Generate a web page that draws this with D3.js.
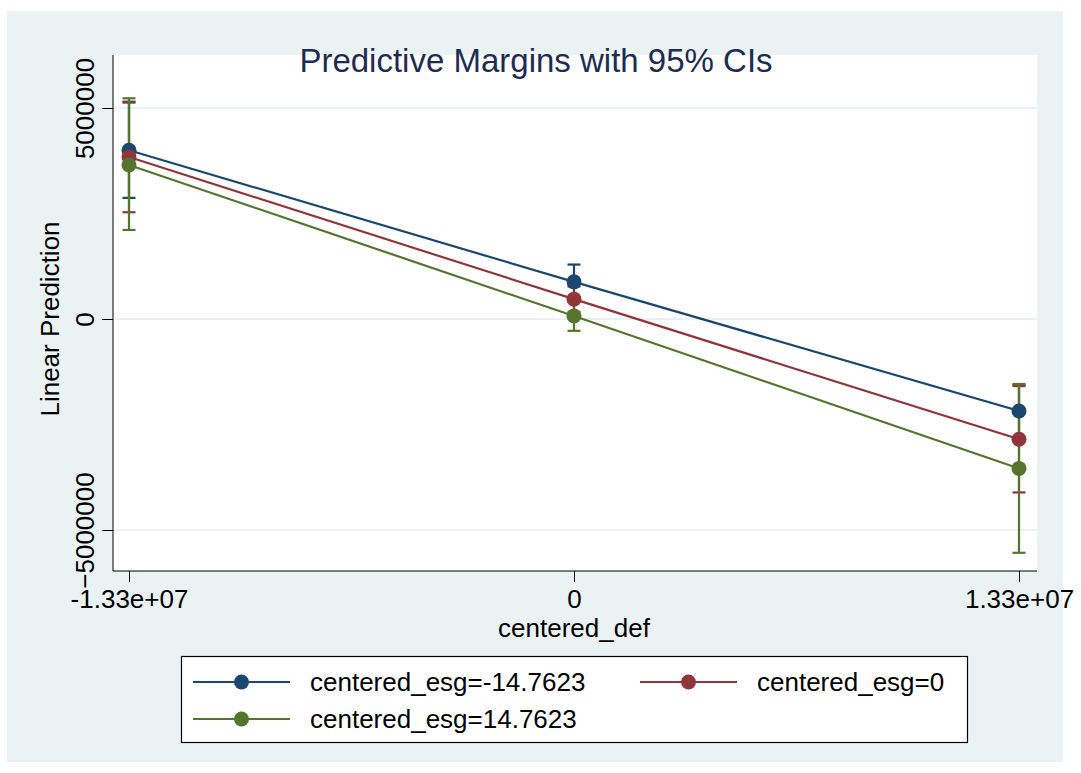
<!DOCTYPE html>
<html lang="en">
<head>
    <meta charset="UTF-8">
    <title>Predictive Margins</title>
    <script src="https://cdn.jsdelivr.net/npm/d3@7"></script>
    <style>
        body { margin: 0; background: #fff; }
        svg { font-family: "Liberation Sans", Arial, sans-serif; }
        .grid { stroke: #eaf2f3; stroke-width: 2px; }
    </style>
</head>
<body>
<svg width="1081" height="773"></svg>

<script>
    // values
    var xValues = [-1.33e7, 0, 1.33e7];
    var xTickLabels = ['-1.33e+07', '0', '1.33e+07'];
    var yTicks = [-5000000, 0, 5000000];

    var seriesNames = ['centered_esg=-14.7623', 'centered_esg=0', 'centered_esg=14.7623'];
    var colors = ['#1a476f', '#90353b', '#55752f'];

    var blueMargin = [4.0e6, 0.88e6, -2.18e6];
    var blueLow = [2.87e6, 0.47e6, -2.80e6];
    var blueHigh = [5.13e6, 1.29e6, -1.56e6];

    var redMargin = [3.84e6, 0.47e6, -2.85e6];
    var redLow = [2.53e6, 0.17e6, -4.11e6];
    var redHigh = [5.15e6, 0.77e6, -1.59e6];

    var greenMargin = [3.65e6, 0.07e6, -3.54e6];
    var greenLow = [2.11e6, -0.28e6, -5.54e6];
    var greenHigh = [5.23e6, 0.42e6, -1.54e6];

    var series = [
        {name: seriesNames[0], color: colors[0], m: blueMargin, lo: blueLow, hi: blueHigh},
        {name: seriesNames[1], color: colors[1], m: redMargin, lo: redLow, hi: redHigh},
        {name: seriesNames[2], color: colors[2], m: greenMargin, lo: greenLow, hi: greenHigh}
    ];

    var svg = d3.select('svg');

    // outer graph region
    svg.append('rect')
        .attr('x', 7).attr('y', 11)
        .attr('width', 1056).attr('height', 751)
        .attr('fill', '#eaf2f3');

    // plot region (note: "top" is reserved on window, so pl* names)
    var plLeft = 113, plRight = 1037, plTop = 55, plBottom = 571;

    svg.append('rect')
        .attr('x', plLeft).attr('y', plTop)
        .attr('width', plRight - plLeft).attr('height', plBottom - plTop)
        .attr('fill', '#fff');

    var x = d3.scaleLinear().domain([-1.33e7, 1.33e7]).range([129, 1019]);
    var y = d3.scaleLinear().domain([-5e6, 5e6]).range([530, 108]);

    // grid
    svg.selectAll('.grid')
        .data(yTicks)
        .enter()
        .append('line')
        .attr('class', 'grid')
        .attr('x1', plLeft).attr('x2', plRight)
        .attr('y1', function (d) { return y(d); })
        .attr('y2', function (d) { return y(d); });

    // axes
    var yAxis = svg.append('g')
        .attr('transform', 'translate(' + plLeft + ',0)')
        .call(d3.axisLeft(y).tickValues(yTicks).tickSize(11).tickFormat(d3.format('d')));
    yAxis.select('.domain').attr('d', 'M0,' + plTop + 'V' + plBottom).attr('stroke', '#000');
    yAxis.selectAll('.tick line').attr('stroke', '#000');
    yAxis.selectAll('.tick text')
        .attr('font-size', 26)
        .attr('fill', '#000')
        .attr('text-anchor', 'middle')
        .attr('x', 0).attr('y', 0).attr('dy', 0)
        .attr('transform', 'translate(-19,0) rotate(-90)');

    var xAxis = svg.append('g')
        .attr('transform', 'translate(0,' + plBottom + ')')
        .call(d3.axisBottom(x).tickValues(xValues).tickSize(11)
            .tickFormat(function (d, i) { return xTickLabels[i]; }));
    xAxis.select('.domain').attr('d', 'M' + plLeft + ',0H' + plRight).attr('stroke', '#000');
    xAxis.selectAll('.tick line').attr('stroke', '#000');
    xAxis.selectAll('.tick text')
        .attr('font-size', 26)
        .attr('fill', '#000')
        .attr('y', 19)
        .attr('dy', '0.71em');

    // titles
    svg.append('text')
        .attr('x', 536).attr('y', 72)
        .attr('text-anchor', 'middle')
        .attr('font-size', 33)
        .attr('fill', '#1e2c53')
        .text('Predictive Margins with 95% CIs');

    svg.append('text')
        .attr('transform', 'translate(59,319) rotate(-90)')
        .attr('text-anchor', 'middle')
        .attr('font-size', 26)
        .attr('fill', '#000')
        .text('Linear Prediction');

    svg.append('text')
        .attr('x', 574).attr('y', 637)
        .attr('text-anchor', 'middle')
        .attr('font-size', 26)
        .attr('fill', '#000')
        .text('centered_def');

    // confidence intervals first
    var capW = 6.5;
    series.forEach(function (s) {
        var g = svg.append('g').attr('stroke', s.color).attr('stroke-width', 2.2);
        xValues.forEach(function (xv, i) {
            g.append('line')
                .attr('x1', x(xv)).attr('x2', x(xv))
                .attr('y1', y(s.lo[i])).attr('y2', y(s.hi[i]));
            g.append('line')
                .attr('x1', x(xv) - capW).attr('x2', x(xv) + capW)
                .attr('y1', y(s.lo[i])).attr('y2', y(s.lo[i]));
            g.append('line')
                .attr('x1', x(xv) - capW).attr('x2', x(xv) + capW)
                .attr('y1', y(s.hi[i])).attr('y2', y(s.hi[i]));
        });
    });

    // lines and markers
    var line = d3.line()
        .x(function (d, i) { return x(xValues[i]); })
        .y(function (d) { return y(d); });

    series.forEach(function (s) {
        svg.append('path')
            .datum(s.m)
            .attr('d', line)
            .attr('fill', 'none')
            .attr('stroke', s.color)
            .attr('stroke-width', 2.2);
        svg.selectAll(null)
            .data(s.m)
            .enter()
            .append('circle')
            .attr('cx', function (d, i) { return x(xValues[i]); })
            .attr('cy', function (d) { return y(d); })
            .attr('r', 7.5)
            .attr('fill', s.color);
    });

    // legend
    svg.append('rect')
        .attr('x', 181.5).attr('y', 656.5)
        .attr('width', 786).attr('height', 86)
        .attr('fill', '#fff')
        .attr('stroke', '#000')
        .attr('stroke-width', 1.2);

    var legendPos = [[193, 682], [640, 682], [193, 719]];
    series.forEach(function (s, i) {
        var p = legendPos[i];
        var lg = svg.append('g').attr('transform', 'translate(' + p[0] + ',' + p[1] + ')');
        lg.append('line')
            .attr('x1', 0).attr('x2', 97)
            .attr('stroke', s.color).attr('stroke-width', 2.2);
        lg.append('circle')
            .attr('cx', 48.5).attr('r', 7.5)
            .attr('fill', s.color);
        lg.append('text')
            .attr('x', 117).attr('y', 0)
            .attr('dy', '0.36em')
            .attr('font-size', 26)
            .attr('fill', '#000')
            .text(s.name);
    });
</script>

</body>
</html>
